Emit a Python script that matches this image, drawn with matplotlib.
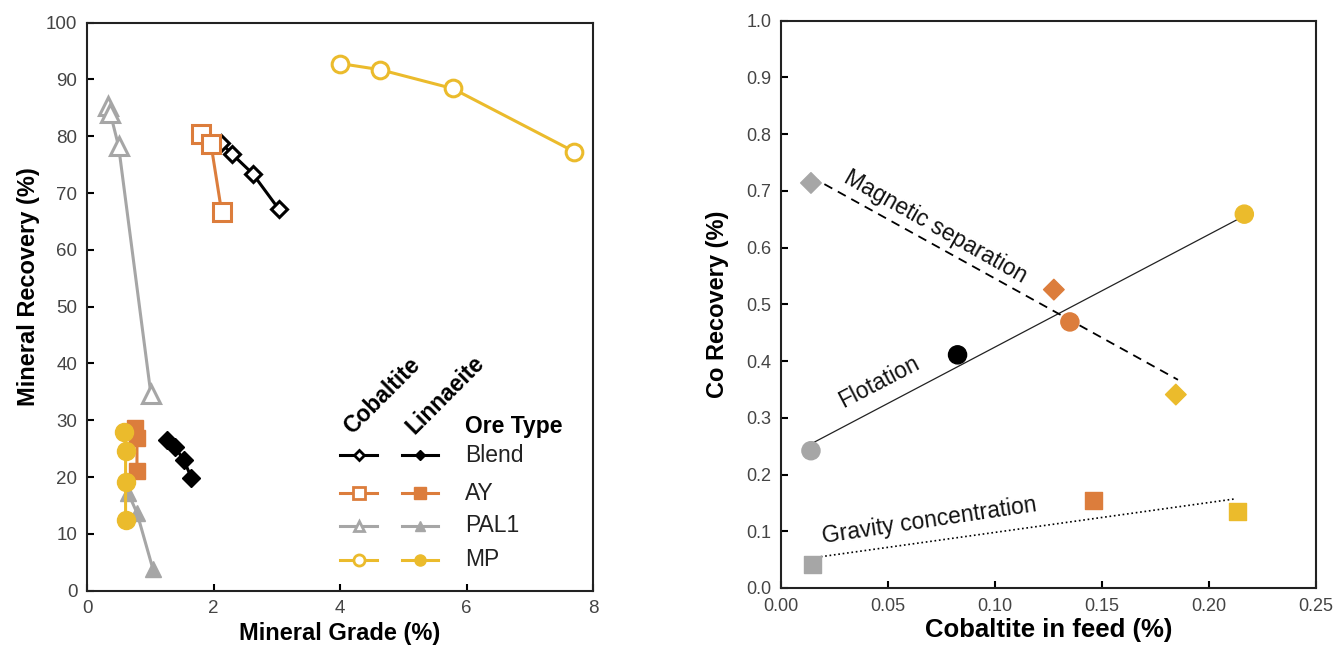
import numpy as np
import matplotlib.pyplot as plt
from matplotlib.lines import Line2D

plt.rcParams['font.family'] = ['Liberation Sans', 'DejaVu Sans']

# colours
black = '#000000'
orange = '#DC7D3C'
grey = '#A6A6A6'
yellow = '#EBBB2C'

# ---- left panel: cobaltite (open markers) ----
blend_cob_x = [2.12, 2.30, 2.62, 3.03]
blend_cob_y = [78.8, 76.8, 73.4, 67.2]
ay_cob_x = [1.80, 1.96, 2.13]
ay_cob_y = [80.4, 78.6, 66.6]
pal_cob_x = [0.33, 0.37, 0.50, 1.01]
pal_cob_y = [85.3, 84.0, 78.2, 34.6]
mp_cob_x = [4.00, 4.64, 5.78, 7.70]
mp_cob_y = [92.8, 91.7, 88.4, 77.3]

# ---- left panel: linnaeite (filled markers) ----
blend_lin_x = [1.27, 1.39, 1.53, 1.65]
blend_lin_y = [26.5, 25.3, 23.0, 19.9]
ay_lin_x = [0.76, 0.79, 0.79]
ay_lin_y = [28.7, 26.8, 21.0]
pal_lin_x = [0.65, 0.79, 1.04]
pal_lin_y = [17.2, 13.7, 3.9]
mp_lin_x = [0.59, 0.61, 0.61, 0.61]
mp_lin_y = [27.9, 24.6, 19.1, 12.4]

ore_types = ['Blend', 'AY', 'PAL1', 'MP']

# ---- right panel ----
feed_mag = [0.014, 0.1275, 0.1845]
rec_mag = [0.714, 0.526, 0.341]
mag_fit_x = [0.014, 0.1855]
mag_fit_y = [0.725, 0.367]

feed_flot = [0.014, 0.0825, 0.135, 0.2165]
rec_flot = [0.242, 0.411, 0.469, 0.659]
flot_fit_x = [0.015, 0.2145]
flot_fit_y = [0.256, 0.652]

feed_grav = [0.0145, 0.146, 0.2135]
rec_grav = [0.042, 0.155, 0.135]
grav_fit_x = [0.0145, 0.212]
grav_fit_y = [0.053, 0.157]

fig = plt.figure(figsize=(13.33, 6.48), dpi=100)
ax1 = fig.add_axes([87/1333, 1-590.7/648, (593-87)/1333, (590.7-22.6)/648])
ax2 = fig.add_axes([781/1333, 1-588/648, (1316-781)/1333, (588-20.7)/648])

lw = 2.2
mew = 2.2
# cobaltite
ax1.plot(pal_cob_x, pal_cob_y, '-^', color=grey, lw=lw, ms=13, mfc='white', mew=mew, zorder=3)
ax1.plot(blend_cob_x, blend_cob_y, '-D', color=black, lw=lw, ms=8.5, mfc='white', mew=mew, zorder=3)
ax1.plot(ay_cob_x, ay_cob_y, '-s', color=orange, lw=lw, ms=12.5, mfc='white', mew=mew, zorder=4)
ax1.plot(mp_cob_x, mp_cob_y, '-o', color=yellow, lw=lw, ms=12, mfc='white', mew=mew, zorder=3)
# linnaeite
ax1.plot(pal_lin_x, pal_lin_y, '-^', color=grey, lw=lw, ms=11, zorder=3)
ax1.plot(blend_lin_x, blend_lin_y, '-D', color=black, lw=lw, ms=9, zorder=3)
ax1.plot(ay_lin_x, ay_lin_y, '-s', color=orange, lw=lw, ms=12, zorder=4)
ax1.plot(mp_lin_x, mp_lin_y, '-o', color=yellow, lw=lw, ms=13, zorder=5)

ax1.set_xlim(0, 8)
ax1.set_ylim(0, 100)
ax1.set_xticks([0, 2, 4, 6, 8])
ax1.set_yticks(np.arange(0, 101, 10))
ax1.set_xlabel('Mineral Grade (%)', fontsize=17, fontweight='bold', labelpad=3)
ax1.set_ylabel('Mineral Recovery (%)', fontsize=17, fontweight='bold')
ax1.yaxis.set_label_coords(-0.092, 0.535)

# custom legend
leg_styles = [('D', black, 5.5), ('s', orange, 8), ('^', grey, 7), ('o', yellow, 8)]
row_y = [455, 493, 526, 560]
def fx(px):
    return (px - 87) / (593 - 87)
def fy(py):
    return (590.7 - py) / (590.7 - 22.6)
for (mk, c, ms), ry, name in zip(leg_styles, row_y, ore_types):
    ax1.add_line(Line2D([fx(340), fx(377)], [fy(ry), fy(ry)], transform=ax1.transAxes,
                        color=c, lw=lw))
    ax1.plot([fx(358.5)], [fy(ry)], marker=mk, color=c, ms=ms, mfc='white', mew=2,
             transform=ax1.transAxes, clip_on=False)
    ax1.add_line(Line2D([fx(402), fx(438)], [fy(ry), fy(ry)], transform=ax1.transAxes,
                        color=c, lw=lw))
    ax1.plot([fx(420)], [fy(ry)], marker=mk, color=c, ms=ms, transform=ax1.transAxes, clip_on=False)
    ax1.text(fx(465), fy(ry), name, transform=ax1.transAxes, fontsize=16.5,
             va='center', ha='left', color='#222222')
ax1.text(fx(465), fy(427), 'Ore Type', transform=ax1.transAxes, fontsize=16.5,
         fontweight='bold', va='center', ha='left')
ax1.text(fx(356), fy(439), 'Cobaltite', transform=ax1.transAxes, fontsize=16.5,
         fontweight='bold', rotation=45, rotation_mode='anchor', ha='left', va='bottom')
ax1.text(fx(418), fy(439), 'Linnaeite', transform=ax1.transAxes, fontsize=16.5,
         fontweight='bold', rotation=45, rotation_mode='anchor', ha='left', va='bottom')

# right panel
ax2.plot(flot_fit_x, flot_fit_y, '-', color='#222222', lw=0.9, zorder=2)
ax2.plot(mag_fit_x, mag_fit_y, '--', color=black, lw=1.3, dashes=(5, 3.5), zorder=2)
ax2.plot(grav_fit_x, grav_fit_y, ':', color=black, lw=1.2, zorder=2)
ax2.scatter(feed_mag, rec_mag, marker='D', s=110, c=[grey, orange, yellow], zorder=3)
ax2.scatter(feed_flot, rec_flot, marker='o', s=170, c=[grey, black, orange, yellow], zorder=3)
ax2.scatter(feed_grav, rec_grav, marker='s', s=150, c=[grey, orange, yellow], zorder=3)

ax2.text(0.0275, 0.708, 'Magnetic separation', fontsize=16.5, rotation=-29.5,
         rotation_mode='anchor', ha='left', va='bottom', color='#111111')
ax2.text(0.030, 0.31, 'Flotation', fontsize=16.5, rotation=27.5,
         rotation_mode='anchor', ha='left', va='bottom', color='#111111')
ax2.text(0.020, 0.07, 'Gravity concentration', fontsize=16.5, rotation=8.5,
         rotation_mode='anchor', ha='left', va='bottom', color='#111111')

ax2.set_xlim(0, 0.25)
ax2.set_ylim(0, 1.0)
ax2.set_xticks(np.arange(0, 0.251, 0.05))
ax2.set_xticklabels(['0.00', '0.05', '0.10', '0.15', '0.20', '0.25'])
ax2.set_yticks(np.arange(0, 1.01, 0.1))
ax2.set_yticklabels(['%.1f' % v for v in np.arange(0, 1.01, 0.1)])
ax2.set_xlabel('Cobaltite in feed (%)', fontsize=18.5, fontweight='bold', labelpad=2)
ax2.set_ylabel('Co Recovery (%)', fontsize=17, fontweight='bold', labelpad=12)

for ax in (ax1, ax2):
    for sp in ax.spines.values():
        sp.set_linewidth(1.5)
        sp.set_color('#222222')
    ax.tick_params(direction='in', length=5, width=1.5, labelsize=13.5,
                   labelcolor='#444444', pad=7)
ax2.tick_params(labelsize=13)

fig.savefig('out.png', dpi=100)
